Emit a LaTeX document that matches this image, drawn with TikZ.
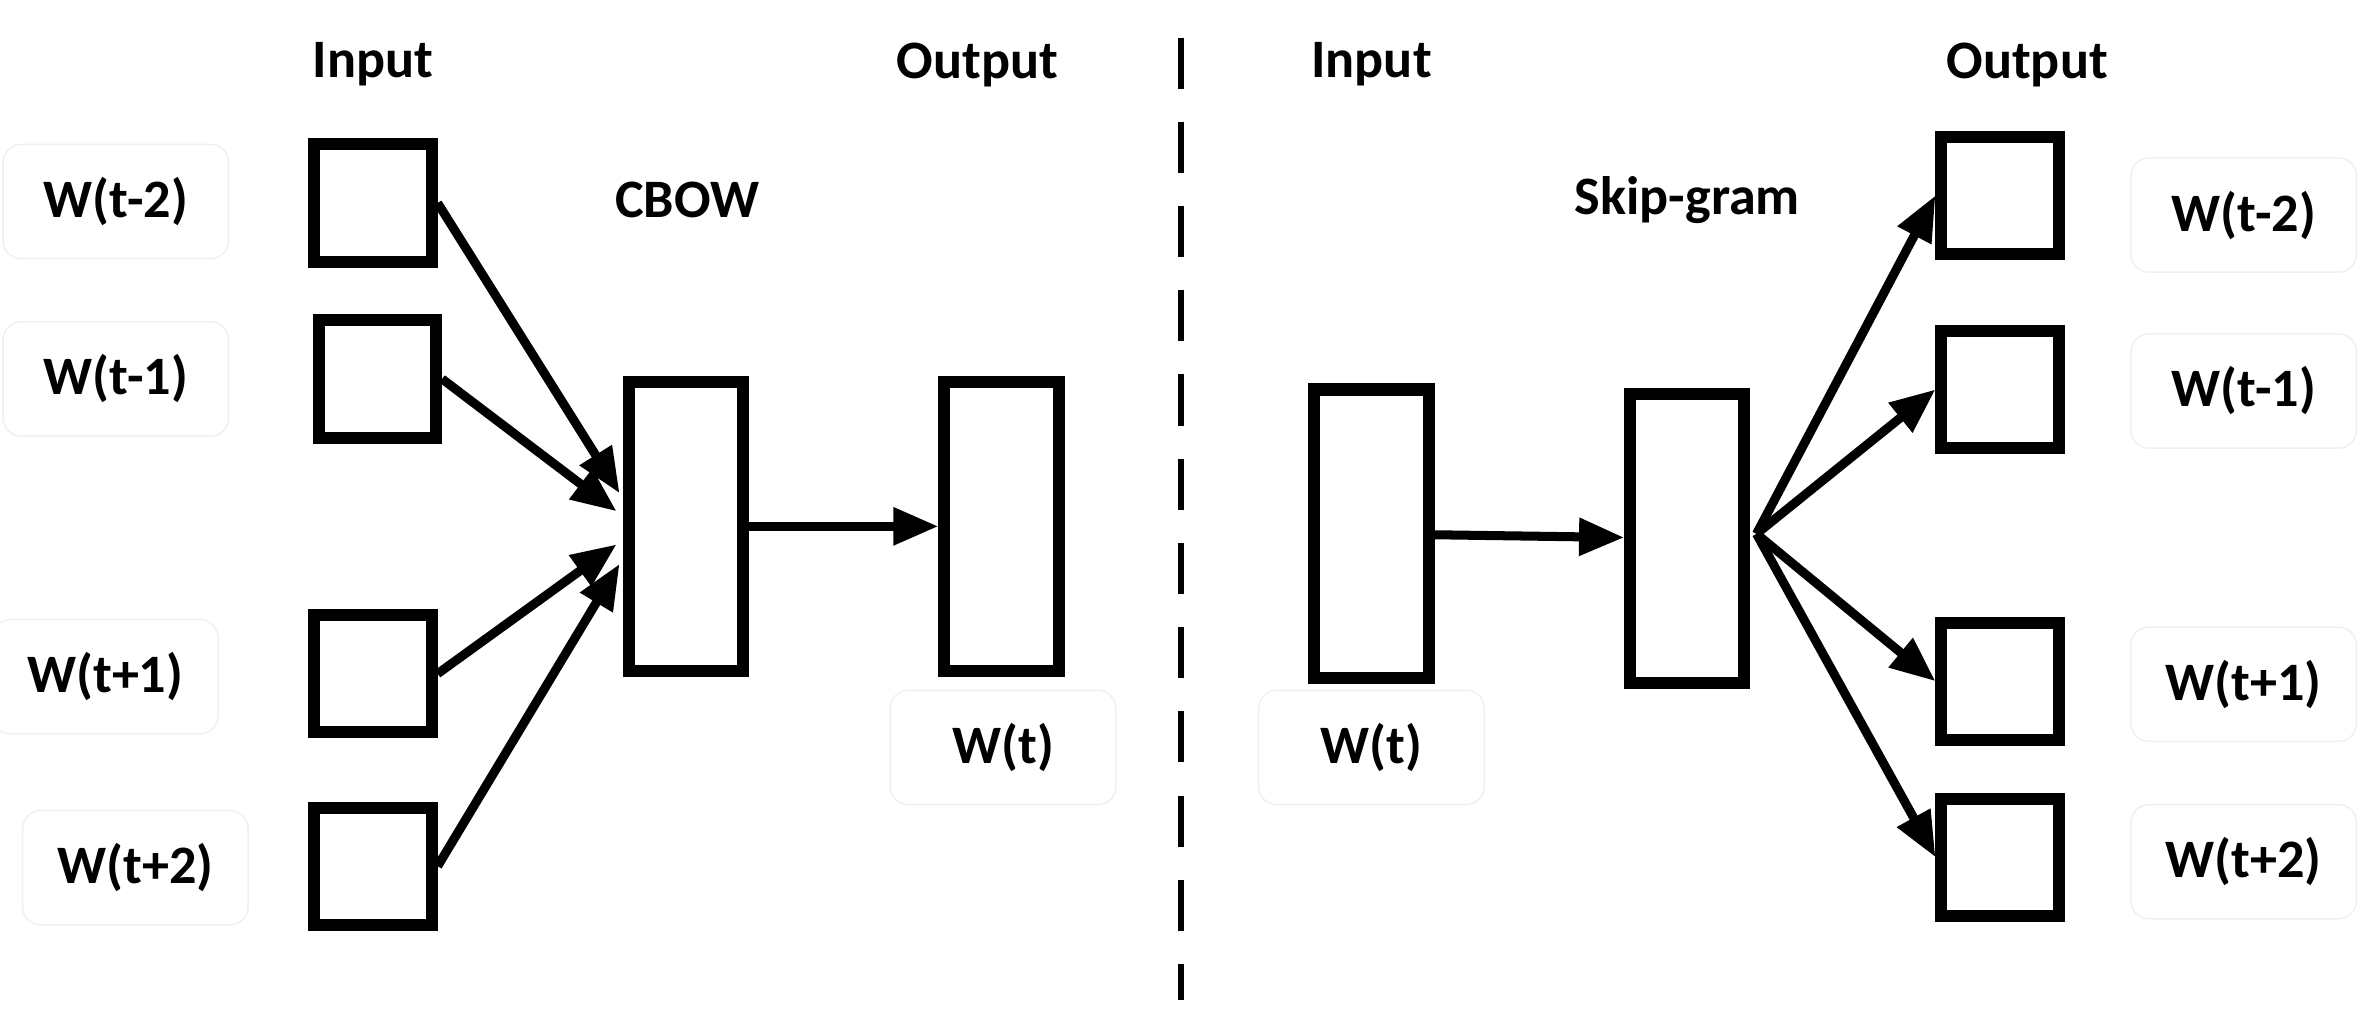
\documentclass[tikz,border=0pt]{standalone}
\usepackage{fontspec}
\setmainfont{Carlito}
\usetikzlibrary{arrows.meta}
\begin{document}
\begin{tikzpicture}[x=1pt,y=-1pt,
  box/.style={draw,line width=8pt,inner sep=0pt,minimum width=#1},
  sq/.style={box=78pt,minimum height=78pt},
  tall/.style={box=76pt,minimum height=192pt},
  lab/.style={font=\fontsize{36}{42}\selectfont\bfseries},
  wl/.style={lab,draw=black!6,line width=1pt,rounded corners=12pt,minimum width=150pt,minimum height=76pt},
  arr/.style={line width=6pt,-{Triangle[length=30pt,width=24pt]}}]
\useasboundingbox (0,0) rectangle (1568,684);
% CBOW
\node[lab] (inL) at (248,43) {Input};
\node[lab] (outL) at (650,43) {Output};
\node[lab] (cbow) at (457,133) {CBOW};
\node[sq] (i1) at (248,135) {};
\node[sq] (i2) at (251,252) {};
\node[sq] (i3) at (248,448) {};
\node[sq] (i4) at (248,576) {};
\node[tall] (h) at (456,350) {};
\node[tall] (o) at (666,350) {};
\node[wl] (li1) at (77,134) {W(t-2)};
\node[wl] (li2) at (77,252) {W(t-1)};
\node[wl] (li3) at (70,450) {W(t+1)};
\node[wl] (li4) at (90,577) {W(t+2)};
\node[wl] (lo) at (667,497) {W(t)};
\draw[arr] (i1.east) -- (412,328);
\draw[arr] (i2.east) -- (410,340);
\draw[arr] (i3.east) -- (410,362);
\draw[arr] (i4.east) -- (412,375);
\draw[arr] (h) -- (o);
% divider
\coordinate (d1) at (785,25); \coordinate (d2) at (785,665);
\draw[line width=4pt,dash pattern=on 34pt off 22pt] (d1) -- (d2);
% Skip-gram
\node[lab] (inR) at (912,43) {Input};
\node[lab] (outR) at (1348,43) {Output};
\node[lab] (sg) at (1122,133) {Skip-gram};
\node[tall] (si) at (912,355) {};
\node[tall] (sh) at (1122,358) {};
\node[sq] (s1) at (1330,130) {};
\node[sq] (s2) at (1330,259) {};
\node[sq] (s3) at (1330,453) {};
\node[sq] (s4) at (1330,570) {};
\node[wl] (lsi) at (912,497) {W(t)};
\node[wl] (ls1) at (1492,143) {W(t-2)};
\node[wl] (ls2) at (1492,260) {W(t-1)};
\node[wl] (ls3) at (1492,455) {W(t+1)};
\node[wl] (ls4) at (1492,573) {W(t+2)};
\draw[arr] (si) -- (sh);
\coordinate (sp) at (1168,355);
\draw[arr] (sp) -- (s1.west);
\draw[arr] (sp) -- (s2.west);
\draw[arr] (sp) -- (s3.west);
\draw[arr] (sp) -- (s4.west);
\end{tikzpicture}
\end{document}
